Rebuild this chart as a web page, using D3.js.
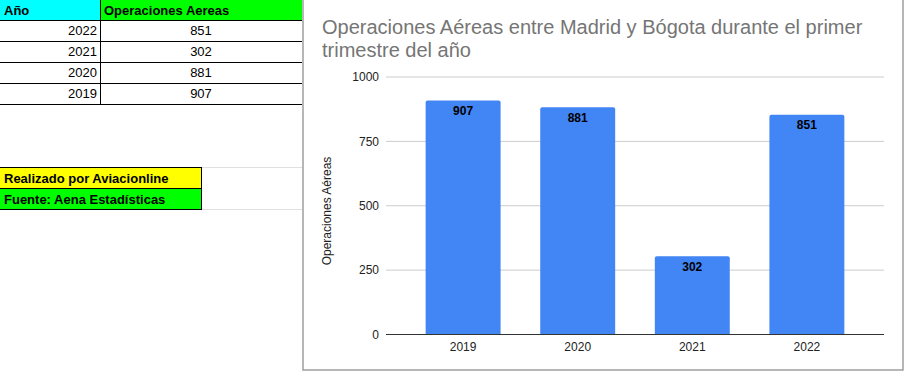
<!DOCTYPE html>
<html><head><meta charset="utf-8">
<script src="https://cdn.jsdelivr.net/npm/d3@7"></script>
<style>
html,body{margin:0;padding:0;background:#fff;}
svg{display:block;font-family:"Liberation Sans",Arial,sans-serif;}
</style></head>
<body>
<svg id="c" width="905" height="373"></svg>
<script>
const years = ["2019","2020","2021","2022"];
const operaciones = [907, 881, 302, 851];
const yTicks = [0, 250, 500, 750, 1000];
const tableYears = ["2022","2021","2020","2019"];
const tableValues = [851, 302, 881, 907];
const title = ["Operaciones Aéreas entre Madrid y Bógota durante el primer", "trimestre del año"];
const yTitle = "Operaciones Aéreas";
const credits = ["Realizado por Aviacionline", "Fuente: Aena Estadísticas"];

const svg = d3.select("#c");

// ---- spreadsheet table ----
const tbl = svg.append("g");
const rowY = d3.scaleLinear().domain([0,1]).range([0,21]);
tbl.append("rect").attr("x",0).attr("y",0).attr("width",100).attr("height",20).attr("fill","#00ffff");
tbl.append("rect").attr("x",100).attr("y",0).attr("width",202).attr("height",20).attr("fill","#00ff00");
tbl.append("text").attr("x",4).attr("y",15).attr("font-size",13).attr("font-weight","bold").attr("fill","#000").text("Año");
tbl.append("text").attr("x",104).attr("y",15).attr("font-size",13).attr("font-weight","bold").attr("fill","#000").text("Operaciones Aereas");
tableYears.forEach((yr,i)=>{
  const y0 = 20 + rowY(i);
  tbl.append("text").attr("x",97).attr("y",y0+15).attr("font-size",13).attr("text-anchor","end").attr("fill","#000").text(yr);
  tbl.append("text").attr("x",201).attr("y",y0+15).attr("font-size",13).attr("text-anchor","middle").attr("fill","#000").text(tableValues[i]);
});
[20,41,62,83,104].forEach(y=>{
  tbl.append("line").attr("x1",0).attr("x2",302).attr("y1",y+0.5).attr("y2",y+0.5).attr("stroke","#000");
});
tbl.append("line").attr("x1",100.5).attr("x2",100.5).attr("y1",0).attr("y2",104).attr("stroke","#000");

// credits
tbl.append("line").attr("x1",202).attr("x2",302).attr("y1",167.5).attr("y2",167.5).attr("stroke","#e0e0e0");
tbl.append("line").attr("x1",202).attr("x2",302).attr("y1",209.5).attr("y2",209.5).attr("stroke","#e0e0e0");
tbl.append("rect").attr("x",0).attr("y",167).attr("width",202).attr("height",21).attr("fill","#ffff00");
tbl.append("rect").attr("x",0).attr("y",188).attr("width",202).attr("height",21).attr("fill","#00ff00");
[167,188,209].forEach(y=>{
  tbl.append("line").attr("x1",0).attr("x2",202).attr("y1",y+0.5).attr("y2",y+0.5).attr("stroke","#000");
});
tbl.append("line").attr("x1",201.5).attr("x2",201.5).attr("y1",167).attr("y2",209).attr("stroke","#000");
credits.forEach((t,i)=>{
  tbl.append("text").attr("x",4).attr("y",183+21*i).attr("font-size",13).attr("font-weight","bold").attr("fill","#000").text(t);
});

// ---- chart panel ----
const chart = svg.append("g");
chart.append("rect").attr("x",303).attr("y",-5).attr("width",600).attr("height",375)
  .attr("fill","#fff").attr("stroke","#9e9e9e").attr("stroke-width",1.5);

const x = d3.scaleBand().domain(years).range([386,884]).paddingInner(0.346).paddingOuter(0.346);
const y = d3.scaleLinear().domain([0,1000]).range([334,76.5]);

// title (one text element, two lines)
const tt = chart.append("text").attr("x",322).attr("y",34).attr("font-size",20).attr("fill","#757575");
title.forEach((t,i)=>{
  tt.append("tspan").attr("x",322).attr("dy", i===0 ? 0 : 23).text(t);
});

// grid + y axis labels
const yAxis = d3.axisLeft(y).tickValues(yTicks).tickSize(-(884-386)).tickPadding(7).tickFormat(d3.format("d"));
const gy = chart.append("g").attr("transform","translate(386,0)").call(yAxis);
gy.select(".domain").remove();
gy.selectAll(".tick line").attr("stroke","#cccccc");
gy.selectAll(".tick text").attr("font-size",12).attr("fill","#222").attr("font-family","Liberation Sans, Arial, sans-serif").attr("dy","0.35em");

// bars
const r = 2;
chart.append("g").selectAll("path").data(years).join("path")
  .attr("fill","#4285f4")
  .attr("d",(d,i)=>{
    const x0 = x(d), w = x.bandwidth(), y0 = y(operaciones[i]), y1 = y(0);
    return `M${x0},${y1}V${y0+r}Q${x0},${y0} ${x0+r},${y0}H${x0+w-r}Q${x0+w},${y0} ${x0+w},${y0+r}V${y1}Z`;
  });

// labels
chart.append("g").selectAll("text").data(years).join("text")
  .attr("x",d=>x(d)+x.bandwidth()/2)
  .attr("y",(d,i)=>y(operaciones[i])+14.5)
  .attr("text-anchor","middle").attr("font-size",12).attr("font-weight","bold").attr("fill","#000")
  .text((d,i)=>operaciones[i]);

// x axis
const xAxis = d3.axisBottom(x).tickSize(0).tickPadding(8);
const gx = chart.append("g").attr("transform","translate(0,334)").call(xAxis);
gx.select(".domain").attr("stroke","#333").attr("d","M386,0.5H884");
gx.selectAll(".tick text").attr("font-size",12).attr("fill","#222").attr("font-family","Liberation Sans, Arial, sans-serif");

// y title
chart.append("text").attr("transform","translate(331,211) rotate(-90)")
  .attr("text-anchor","middle").attr("font-size",12).attr("fill","#222").text(yTitle);
</script>
</body></html>
